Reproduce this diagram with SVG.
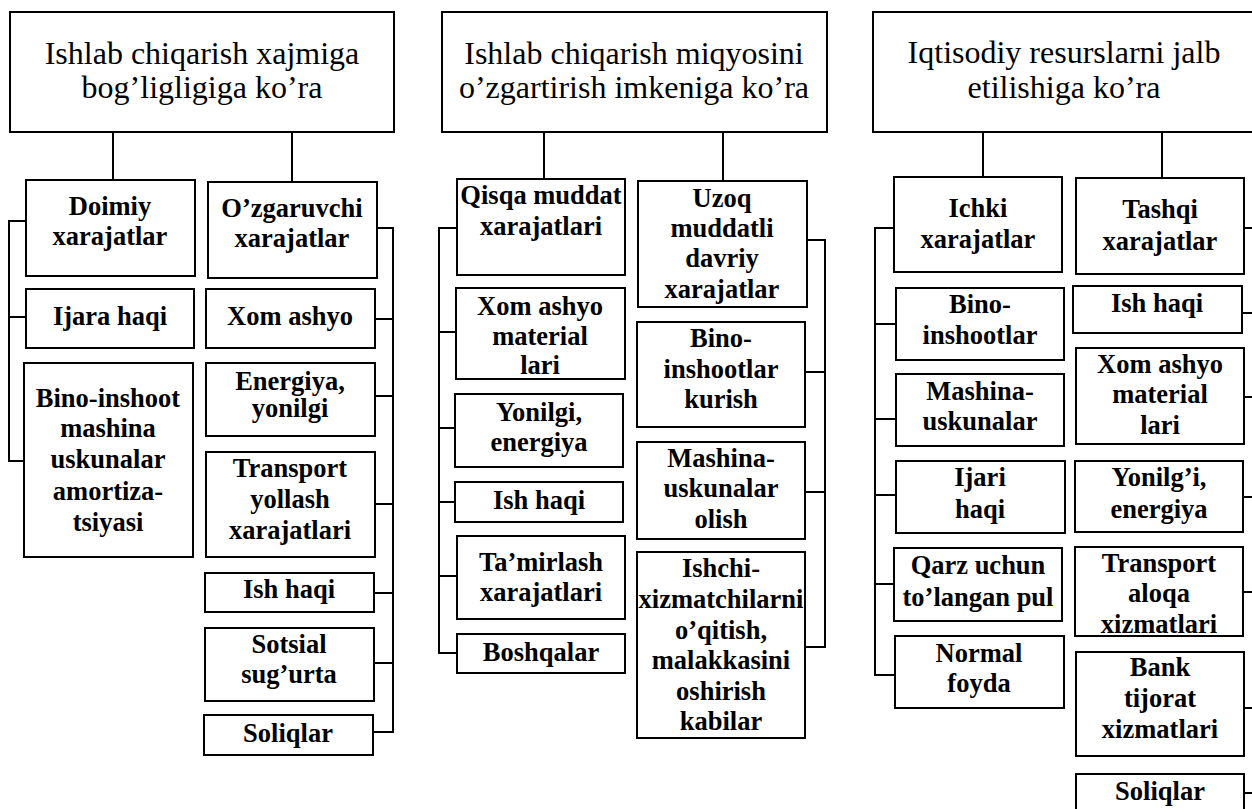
<svg xmlns="http://www.w3.org/2000/svg" width="1252" height="809" viewBox="0 0 1252 809">
<style>
rect{fill:#fff;stroke:#000;stroke-width:2}
.t{font-family:"Liberation Serif","Times New Roman",serif;font-size:32px;text-anchor:middle;fill:#000}
.n{font-family:"Liberation Serif","Times New Roman",serif;font-size:26.5px;font-weight:bold;text-anchor:middle;fill:#000}
#connectors path{fill:none;stroke:#000;stroke-width:2}
</style>
<rect x="0" y="0" width="1252" height="809" style="stroke:none"/>
<g id="connectors">
<path d="M113 132V180M292 132V182M544 132V179M723 132V181M983 132V177M1162 132V178"/>
<path d="M26 221H9V461H24M9 317H26"/>
<path d="M377 228H393V732H373M375 319H393M375 396H393M375 504H393M374 593H393M374 663H393"/>
<path d="M457 228H439V653H457M439 332H456M439 428H455M439 502H455M439 576H457"/>
<path d="M807 240H825V647H805M805 372H825M805 492H825"/>
<path d="M894 228H875V675H895M875 324H896M875 419H896M875 495H896M875 584H894"/>
<path d="M1244 228H1253M1242 313H1253M1244 397H1253M1243 497H1253M1243 592H1253M1244 708H1253M1244 793H1253"/>
</g>
<g id="title1"><rect x="10" y="12" width="384" height="120"/><text class="t"><tspan x="202" y="64">Ishlab chiqarish xajmiga</tspan><tspan x="202" y="98">bog’ligligiga ko’ra</tspan></text></g>
<g id="title2"><rect x="442" y="12" width="385" height="120"/><text class="t"><tspan x="634" y="64">Ishlab chiqarish miqyosini</tspan><tspan x="634" y="98">o’zgartirish imkeniga ko’ra</tspan></text></g>
<g id="title3"><rect x="873" y="12" width="385" height="120"/><text class="t"><tspan x="1064" y="63">Iqtisodiy resurslarni jalb</tspan><tspan x="1064" y="98">etilishiga ko’ra</tspan></text></g>

<g id="doimiy"><rect x="26" y="180" width="169" height="96"/><text class="n"><tspan x="110" y="215">Doimiy</tspan><tspan x="110" y="245">xarajatlar</tspan></text></g>
<g id="ijara"><rect x="26" y="289" width="168" height="59"/><text class="n"><tspan x="110" y="325">Ijara haqi</tspan></text></g>
<g id="bino1"><rect x="24" y="363" width="169" height="194"/><text class="n"><tspan x="108" y="407">Bino-inshoot</tspan><tspan x="108" y="437">mashina</tspan><tspan x="108" y="468">uskunalar</tspan><tspan x="108" y="500">amortiza-</tspan><tspan x="108" y="531">tsiyasi</tspan></text></g>

<g id="ozgaruvchi"><rect x="208" y="182" width="169" height="96"/><text class="n"><tspan x="292" y="217">O’zgaruvchi</tspan><tspan x="292" y="247">xarajatlar</tspan></text></g>
<g id="xom1"><rect x="206" y="289" width="169" height="59"/><text class="n"><tspan x="290" y="325">Xom ashyo</tspan></text></g>
<g id="energiya1"><rect x="206" y="363" width="169" height="73"/><text class="n"><tspan x="290" y="390">Energiya,</tspan><tspan x="290" y="417">yonilgi</tspan></text></g>
<g id="transport1"><rect x="206" y="452" width="169" height="105"/><text class="n"><tspan x="290" y="477">Transport</tspan><tspan x="290" y="508">yollash</tspan><tspan x="290" y="539">xarajatlari</tspan></text></g>
<g id="ishhaqi1"><rect x="205" y="573" width="169" height="39"/><text class="n"><tspan x="289" y="598">Ish haqi</tspan></text></g>
<g id="sotsial"><rect x="205" y="628" width="169" height="73"/><text class="n"><tspan x="289" y="653">Sotsial</tspan><tspan x="289" y="683">sug’urta</tspan></text></g>
<g id="soliqlar1"><rect x="204" y="715" width="169" height="40"/><text class="n"><tspan x="288" y="742">Soliqlar</tspan></text></g>

<g id="qisqa"><rect x="457" y="179" width="168" height="96"/><text class="n"><tspan x="541" y="204">Qisqa muddat</tspan><tspan x="541" y="235">xarajatlari</tspan></text></g>
<g id="xom2"><rect x="456" y="288" width="169" height="91"/><text class="n"><tspan x="540" y="315">Xom ashyo</tspan><tspan x="540" y="345">material</tspan><tspan x="540" y="374">lari</tspan></text></g>
<g id="yonilgi2"><rect x="455" y="394" width="168" height="73"/><text class="n"><tspan x="539" y="421">Yonilgi,</tspan><tspan x="539" y="451">energiya</tspan></text></g>
<g id="ishhaqi2"><rect x="455" y="482" width="168" height="40"/><text class="n"><tspan x="539" y="509">Ish haqi</tspan></text></g>
<g id="tamirlash"><rect x="457" y="536" width="168" height="83"/><text class="n"><tspan x="541" y="571">Ta’mirlash</tspan><tspan x="541" y="601">xarajatlari</tspan></text></g>
<g id="boshqalar"><rect x="457" y="634" width="168" height="39"/><text class="n"><tspan x="541" y="661">Boshqalar</tspan></text></g>

<g id="uzoq"><rect x="638" y="181" width="169" height="126"/><text class="n"><tspan x="722" y="207">Uzoq</tspan><tspan x="722" y="237">muddatli</tspan><tspan x="722" y="267">davriy</tspan><tspan x="722" y="298">xarajatlar</tspan></text></g>
<g id="bino2"><rect x="637" y="322" width="168" height="105"/><text class="n"><tspan x="721" y="347">Bino-</tspan><tspan x="721" y="378">inshootlar</tspan><tspan x="721" y="408">kurish</tspan></text></g>
<g id="mashina2"><rect x="637" y="442" width="168" height="97"/><text class="n"><tspan x="721" y="467">Mashina-</tspan><tspan x="721" y="497">uskunalar</tspan><tspan x="721" y="528">olish</tspan></text></g>
<g id="ishchi"><rect x="637" y="552" width="168" height="186"/><text class="n"><tspan x="721" y="577">Ishchi-</tspan><tspan x="721" y="608">xizmatchilarni</tspan><tspan x="721" y="639">o’qitish,</tspan><tspan x="721" y="669">malakkasini</tspan><tspan x="721" y="700">oshirish</tspan><tspan x="721" y="730">kabilar</tspan></text></g>

<g id="ichki"><rect x="894" y="177" width="168" height="95"/><text class="n"><tspan x="978" y="217">Ichki</tspan><tspan x="978" y="248">xarajatlar</tspan></text></g>
<g id="bino3"><rect x="896" y="288" width="168" height="72"/><text class="n"><tspan x="980" y="313">Bino-</tspan><tspan x="980" y="344">inshootlar</tspan></text></g>
<g id="mashina3"><rect x="896" y="374" width="168" height="72"/><text class="n"><tspan x="980" y="400">Mashina-</tspan><tspan x="980" y="430">uskunalar</tspan></text></g>
<g id="ijari"><rect x="896" y="461" width="169" height="72"/><text class="n"><tspan x="980" y="486">Ijari</tspan><tspan x="980" y="518">haqi</tspan></text></g>
<g id="qarz"><rect x="894" y="548" width="168" height="73"/><text class="n"><tspan x="978" y="574">Qarz uchun</tspan><tspan x="978" y="606">to’langan pul</tspan></text></g>
<g id="normal"><rect x="895" y="636" width="169" height="72"/><text class="n"><tspan x="979" y="662">Normal</tspan><tspan x="979" y="692">foyda</tspan></text></g>

<g id="tashqi"><rect x="1076" y="178" width="168" height="96"/><text class="n"><tspan x="1160" y="218">Tashqi</tspan><tspan x="1160" y="250">xarajatlar</tspan></text></g>
<g id="ishhaqi3"><rect x="1073" y="286" width="169" height="47"/><text class="n"><tspan x="1157" y="312">Ish haqi</tspan></text></g>
<g id="xom3"><rect x="1076" y="348" width="168" height="96"/><text class="n"><tspan x="1160" y="373">Xom ashyo</tspan><tspan x="1160" y="403">material</tspan><tspan x="1160" y="434">lari</tspan></text></g>
<g id="yonilgi3"><rect x="1075" y="461" width="168" height="71"/><text class="n"><tspan x="1159" y="486">Yonilg’i,</tspan><tspan x="1159" y="518">energiya</tspan></text></g>
<g id="transport3"><rect x="1075" y="547" width="168" height="89"/><text class="n"><tspan x="1159" y="572">Transport</tspan><tspan x="1159" y="602">aloqa</tspan><tspan x="1159" y="633">xizmatlari</tspan></text></g>
<g id="bank"><rect x="1076" y="652" width="168" height="104"/><text class="n"><tspan x="1160" y="676">Bank</tspan><tspan x="1160" y="707">tijorat</tspan><tspan x="1160" y="738">xizmatlari</tspan></text></g>
<g id="soliqlar3"><rect x="1076" y="774" width="168" height="50"/><text class="n"><tspan x="1160" y="800">Soliqlar</tspan></text></g>
</svg>
